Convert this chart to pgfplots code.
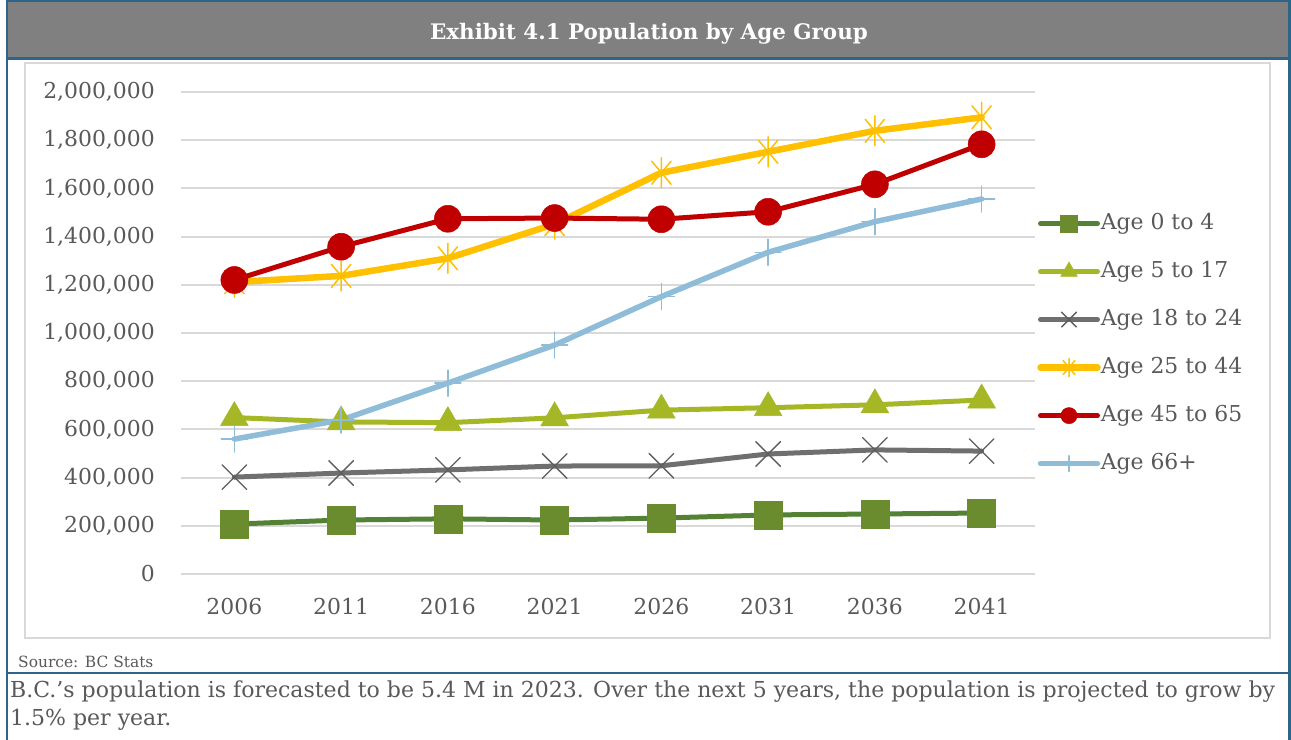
\documentclass[border=0pt]{standalone}
\usepackage{fontspec}
\setmainfont{DejaVu Serif}
\usepackage{pgfplots}
\pgfplotsset{compat=1.18}
\definecolor{frameblue}{HTML}{2E6586}
\definecolor{titlegrey}{HTML}{808080}
\definecolor{chartborder}{HTML}{D9D9D9}
\definecolor{gridgrey}{HTML}{D9D9D9}
\definecolor{textgrey}{HTML}{595959}
\definecolor{cA}{HTML}{548235}
\definecolor{cAm}{HTML}{6A8C2F}
\definecolor{cB}{HTML}{A6B726}
\definecolor{cC}{HTML}{6F6F6F}
\definecolor{cD}{HTML}{FFC000}
\definecolor{cE}{HTML}{C00000}
\definecolor{cF}{HTML}{8EBCD9}
\pgfdeclareplotmark{xstar}{%
  \pgfpathmoveto{\pgfqpoint{0pt}{\pgfplotmarksize}}%
  \pgfpathlineto{\pgfqpoint{0pt}{-\pgfplotmarksize}}%
  \pgfpathmoveto{\pgfqpointpolar{50}{\pgfplotmarksize}}%
  \pgfpathlineto{\pgfqpointpolar{230}{\pgfplotmarksize}}%
  \pgfpathmoveto{\pgfqpointpolar{130}{\pgfplotmarksize}}%
  \pgfpathlineto{\pgfqpointpolar{310}{\pgfplotmarksize}}%
  \pgfusepathqstroke}
\begin{document}
\begin{tikzpicture}
\path[use as bounding box] (0,0) rectangle (1291bp,-740bp);
\fill[white] (0,0) rectangle (1291bp,-740bp);
\fill[titlegrey] (7bp,-1bp) rectangle (1289bp,-57bp);
\draw[frameblue, line width=2.5bp] (7bp,-740bp) -- (7bp,-1.2bp) -- (1289.5bp,-1.2bp) -- (1289.5bp,-740bp);
\draw[frameblue, line width=3bp] (7bp,-58bp) -- (1289.5bp,-58bp);
\draw[frameblue, line width=2bp] (7bp,-673bp) -- (1289.5bp,-673bp);
\node[text=white, font=\bfseries\fontsize{21.5}{25}\selectfont] at (649bp,-34bp) {Exhibit 4.1 Population by Age Group};
\draw[chartborder, line width=1.5bp] (25bp,-63bp) rectangle (1270bp,-638bp);
\node[anchor=base west, inner sep=0pt, text=textgrey, font=\fontsize{15.5}{18}\selectfont] at (18bp,-667bp) {Source: BC Stats};
\node[anchor=base west, inner sep=0pt, text=textgrey, font=\fontsize{22.1}{26}\selectfont] at (10bp,-697bp) {B.C.’s population is forecasted to be 5.4 M in 2023. Over the next 5 years, the population is projected to grow by};
\node[anchor=base west, inner sep=0pt, text=textgrey, font=\fontsize{22.1}{26}\selectfont] at (10bp,-725bp) {1.5\% per year.};
\begin{axis}[
  at={(181bp,-574bp)}, anchor=south west, scale only axis,
  width=854bp, height=482bp,
  xmin=-0.5, xmax=7.5, ymin=0, ymax=2000000,
  xtick={0,1,2,3,4,5,6,7},
  xticklabels={2006,2011,2016,2021,2026,2031,2036,2041},
  ytick={0,200000,400000,600000,800000,1000000,1200000,1400000,1600000,1800000,2000000},
  scaled y ticks=false,
  /pgf/number format/fixed,
  /pgf/number format/1000 sep={,},
  /pgf/number format/assume math mode=true,
  axis line style={draw=none},
  major tick length=0pt,
  ymajorgrids,
  grid style={color=gridgrey, line width=2bp},
  ticklabel style={font=\fontsize{22}{26}\selectfont, text=textgrey},
  yticklabel style={anchor=east, inner sep=0pt, xshift=-26bp},
  xticklabel style={anchor=north, inner sep=0pt, yshift=-24bp},
  clip=false,
  legend cell align=left,
  legend style={at={(1.0024,0.478)}, anchor=west, draw=none, fill=none,
    font=\fontsize{22}{26}\selectfont, text=textgrey, inner sep=0pt,
    row sep=27bp,
    nodes={inner xsep=0bp, inner ysep=0pt, text height=16bp, text depth=5bp}},
  legend image code/.code={\draw[mark repeat=2, mark phase=2] plot coordinates {(0bp,0bp) (28.5bp,0bp) (57bp,0bp)};},
  legend image post style={/tikz/every mark/.append style={scale=0.6}},
]
\addplot[color=cA, line width=5bp, line cap=round, mark=square*, mark size=14bp, mark options={fill=cAm, draw=cAm, line width=0.5bp}]
  coordinates {(0,207000) (1,224000) (2,229000) (3,224000) (4,232000) (5,245000) (6,249000) (7,253000)};
\addlegendentry{Age 0 to 4}
\addplot[color=cB, line width=5bp, line cap=round, mark=triangle*, mark size=16bp, mark options={fill=cB, draw=cB, line width=0.5bp}]
  coordinates {(0,649000) (1,631000) (2,628000) (3,648000) (4,680000) (5,690000) (6,702000) (7,722000)};
\addlegendentry{Age 5 to 17}
\addplot[color=cC, line width=5bp, line cap=round, mark=x, mark size=17.5bp, mark options={draw=cC!85!black, line width=1.3bp}]
  coordinates {(0,402000) (1,419000) (2,432000) (3,448000) (4,449000) (5,498000) (6,515000) (7,510000)};
\addlegendentry{Age 18 to 24}
\addplot[color=cD, line width=6.5bp, line cap=round, mark=xstar, mark size=15bp, mark options={draw=cD, line width=1.5bp}]
  coordinates {(0,1211000) (1,1237000) (2,1310000) (3,1452000) (4,1665000) (5,1752000) (6,1839000) (7,1895000)};
\addlegendentry{Age 25 to 44}
\addplot[color=cE, line width=5bp, line cap=round, mark=*, mark size=13.5bp, mark options={fill=cE, draw=cE, line width=0.5bp}]
  coordinates {(0,1220000) (1,1358000) (2,1474000) (3,1477000) (4,1472000) (5,1503000) (6,1617000) (7,1783000)};
\addlegendentry{Age 45 to 65}
\addplot[color=cF, line width=5.5bp, line cap=round, mark=+, mark size=13bp, mark options={draw=cF, line width=1.5bp}]
  coordinates {(0,560000) (1,639000) (2,792000) (3,950000) (4,1151000) (5,1335000) (6,1462000) (7,1556000)};
\addlegendentry{Age 66+}
\end{axis}
\end{tikzpicture}
\end{document}
